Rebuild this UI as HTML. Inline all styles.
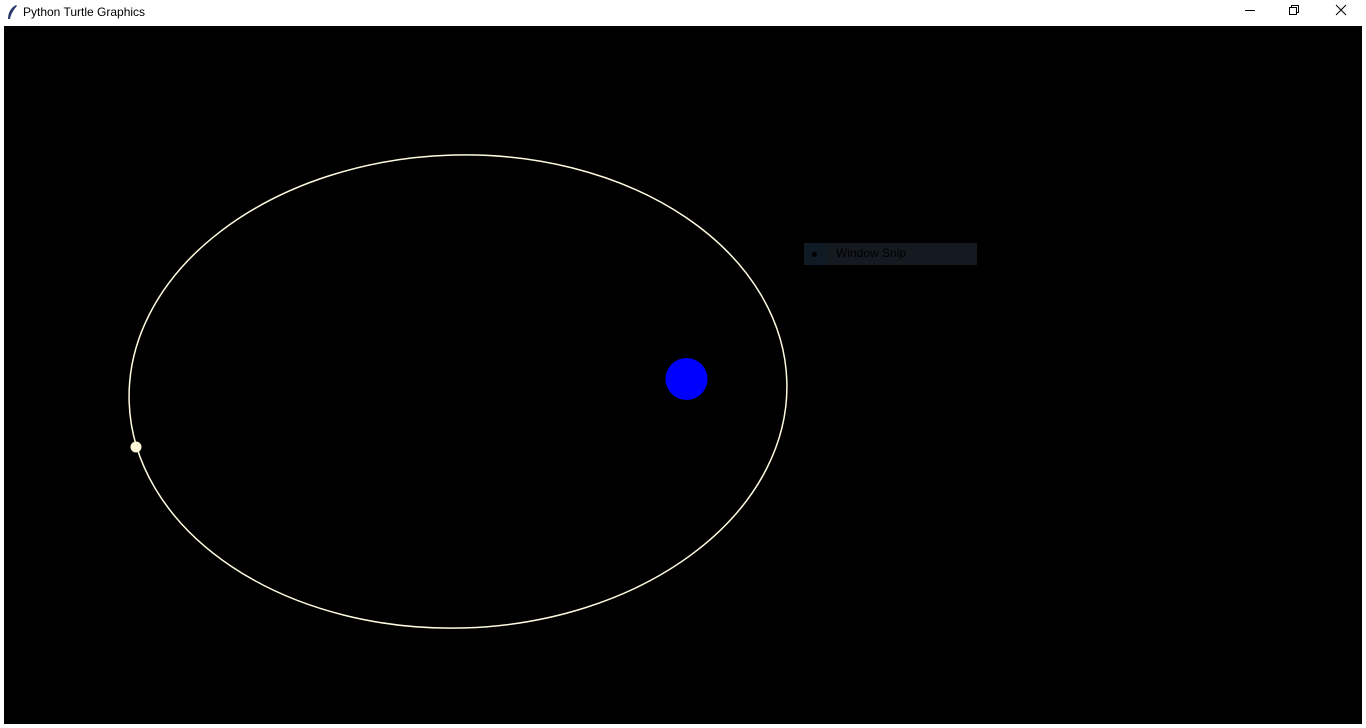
<!DOCTYPE html>
<html><head><meta charset="utf-8"><style>
body{margin:0;width:1366px;height:728px;background:#fff;position:relative;overflow:hidden;font-family:"Liberation Sans",sans-serif}
#title{position:absolute;left:0;top:0;width:1366px;height:25px;background:#fff}
#title span{position:absolute;left:23px;top:5px;font-size:12px;color:#000}
#canvas{position:absolute;left:4px;top:26px;width:1358px;height:698px;background:#000}
#snip{position:absolute;left:804px;top:243px;width:173px;height:22px;background:#141a20}
#snip .sq{position:absolute;left:0;top:0;width:22px;height:22px;background:#0f1a24}
#snip .dot{position:absolute;left:8px;top:9px;width:5px;height:5px;border-radius:50%;background:#000}
#snip span{position:absolute;left:32px;top:3px;font-size:12px;color:#000}
</style></head><body>
<div id="title">
<svg width="14" height="18" style="position:absolute;left:5px;top:4px"><path d="M11 1 C5 4 3 10 3 15 L5 15 C6 10 9 5 12 2 Z" fill="#2a3a6a"/></svg>
<span>Python Turtle Graphics</span>
<svg width="130" height="25" style="position:absolute;left:1236px;top:0">
<g><line x1="9" y1="10.5" x2="19" y2="10.5" stroke="#000"/></g>
<g><rect x="53.5" y="7.5" width="7" height="7" fill="none" stroke="#000"/><path d="M55.5 7.5 V5.5 H62.5 V12.5 H60.5" fill="none" stroke="#000"/></g>
<g><path d="M100 5 L110 15 M110 5 L100 15" stroke="#000"/></g>
</svg>
</div>
<div id="canvas"></div>
<svg width="1366" height="728" style="position:absolute;left:0;top:0">
<ellipse cx="458" cy="391.5" rx="329" ry="236.5" transform="rotate(-1.8 458 391.5)" fill="none" stroke="#fffbe0" stroke-width="1.5"/>
<circle cx="686.5" cy="379" r="21" fill="#0000ff"/>
<circle cx="136" cy="447" r="5.5" fill="#fff8d8"/>
</svg>
<div id="snip"><div class="sq"></div><div class="dot"></div><span>Window Snip</span></div>
</body></html>
